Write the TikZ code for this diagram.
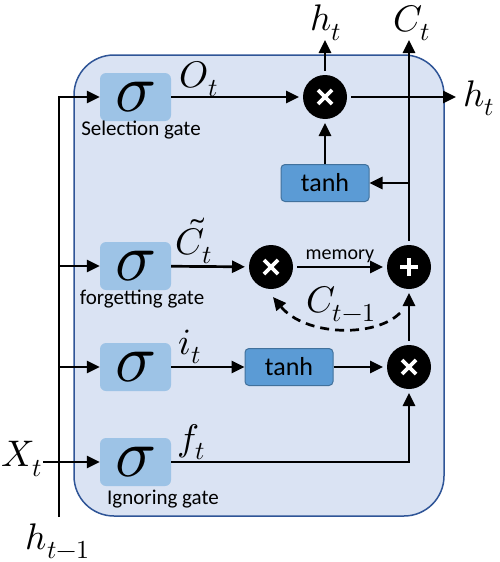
\documentclass[tikz,border=0pt]{standalone}
\usepackage{fontspec}
\usepackage{unicode-math}
\setmainfont{Carlito}
\setmathfont{Latin Modern Math}
\usetikzlibrary{arrows.meta}
\definecolor{cellfill}{HTML}{DAE3F3}
\definecolor{celledge}{HTML}{2F5597}
\definecolor{gatefill}{HTML}{9DC3E6}
\definecolor{tanhfill}{HTML}{5B9BD5}
\definecolor{tanhedge}{HTML}{41719C}
\tikzset{
  flow/.style={line width=2.7pt,-{Triangle[length=13pt,width=12pt]}},
  gate/.style={fill=gatefill,rounded corners=6pt,minimum width=71pt,minimum height=48pt,inner sep=0pt,font=\fontsize{68}{68}\selectfont},
  squash/.style={fill=tanhfill,draw=tanhedge,line width=1pt,rounded corners=4pt,minimum width=88pt,minimum height=37pt,inner sep=0pt,font=\fontsize{26}{26}\selectfont},
  op/.style={circle,fill=black,minimum size=44pt,inner sep=0pt,outer sep=4pt},
  times/.style={op,path picture={
      \draw[white,line width=3.8pt] ([shift={(-7pt,-7pt)}]path picture bounding box.center) -- ([shift={(7pt,7pt)}]path picture bounding box.center);
      \draw[white,line width=3.8pt] ([shift={(-7pt,7pt)}]path picture bounding box.center) -- ([shift={(7pt,-7pt)}]path picture bounding box.center);}},
  plus/.style={op,path picture={
      \draw[white,line width=3.8pt] ([shift={(-9pt,0pt)}]path picture bounding box.center) -- ([shift={(9pt,0pt)}]path picture bounding box.center);
      \draw[white,line width=3.8pt] ([shift={(0pt,-9pt)}]path picture bounding box.center) -- ([shift={(0pt,9pt)}]path picture bounding box.center);}},
  mlab/.style={inner sep=0pt,font=\fontsize{37}{37}\selectfont},
  gatename/.style={inner sep=0pt,font=\fontsize{21}{21}\selectfont},
}
\begin{document}
\begin{tikzpicture}[x=1pt,y=-1pt]
  \useasboundingbox (0,0) rectangle (500,562);
  % cell body
  \draw[celledge,fill=cellfill,line width=1.5pt,rounded corners=40pt] (74,55) rectangle (444,516);

  % gates
  \node[gate] (sig1) at (135.5,97) {$\sigma$};
  \node[gate] (sig2) at (135.5,266) {$\sigma$};
  \node[gate] (sig3) at (135.5,367) {$\sigma$};
  \node[gate] (sig4) at (135.5,462) {$\sigma$};
  \node[gatename] (selname) at (141,130) {Selection gate};
  \node[gatename] (forname) at (142,299) {forgetting gate};
  \node[gatename] (ignname) at (163,499) {Ignoring gate};

  % operations
  \node[times] (mul1) at (325,97) {};
  \node[times] (mul2) at (271,267) {};
  \node[plus] (add) at (409,267) {};
  \node[times] (mul3) at (409,367) {};
  \node[squash] (tanh1) at (325,183) {tanh};
  \node[squash] (tanh2) at (289,367) {tanh};

  % inputs and outputs
  \node[mlab] (xlab) at (22,459) {$X_t$};
  \node[mlab] (hinlab) at (58,541) {$h_{t-1}$};
  \node[mlab,anchor=north] (houtlab) at (326,5) {$h_t$};
  \node[mlab,anchor=north] (coutlab) at (412,5) {$C_t$};
  \node[mlab] (hrightlab) at (479,98) {$h_t$};
  \coordinate (xin) at (43,462);
  \coordinate (hbot) at (59,517);
  \coordinate (hout) at (325,40);
  \coordinate (cout) at (409,40);
  \coordinate (hright) at (456,97);
  \coordinate (cbranch) at (409,183);
  \coordinate (cm1s) at (400,313);
  \coordinate (cm1e) at (273,297);

  \draw[flow] (hbot) |- (sig1);
  \draw[flow] (hbot |- sig2) -- (sig2);
  \draw[flow] (hbot |- sig3) -- (sig3);
  \draw[flow] (xin) -- (sig4);

  \draw[flow] (sig1) -- (mul1);
  \node[mlab] (olab) at (199,79) {$O_t$};
  \draw[flow] (mul1) -- (hout);
  \draw[flow] (mul1) -- (hright);
  \draw[flow] (tanh1) -- (mul1);
  \draw[flow] (add) -- (cout);
  \draw[flow] (cbranch) -- (tanh1);

  \draw[flow] (sig2) -- (mul2);
  \node[mlab] (ctlab) at (194,241) {$\tilde{C}_t$};
  \draw[flow] (mul2) -- node[above=3pt,gatename,font=\fontsize{20}{20}\selectfont] {memory} (add);
  \draw[flow,dash pattern=on 9pt off 6pt] (cm1s) .. controls (375,338) and (305,336) .. (cm1e);
  \node[mlab] (cprevlab) at (341,304) {$C_{t-1}$};

  \draw[flow] (sig3) -- (tanh2);
  \node[mlab] (ilab) at (190,347) {$i_t$};
  \draw[flow] (tanh2) -- (mul3);
  \draw[flow] (mul3) -- (add);

  \draw[flow] (sig4) -| (mul3);
  \node[mlab] (flab) at (191,442) {$f_t$};
\end{tikzpicture}
\end{document}
